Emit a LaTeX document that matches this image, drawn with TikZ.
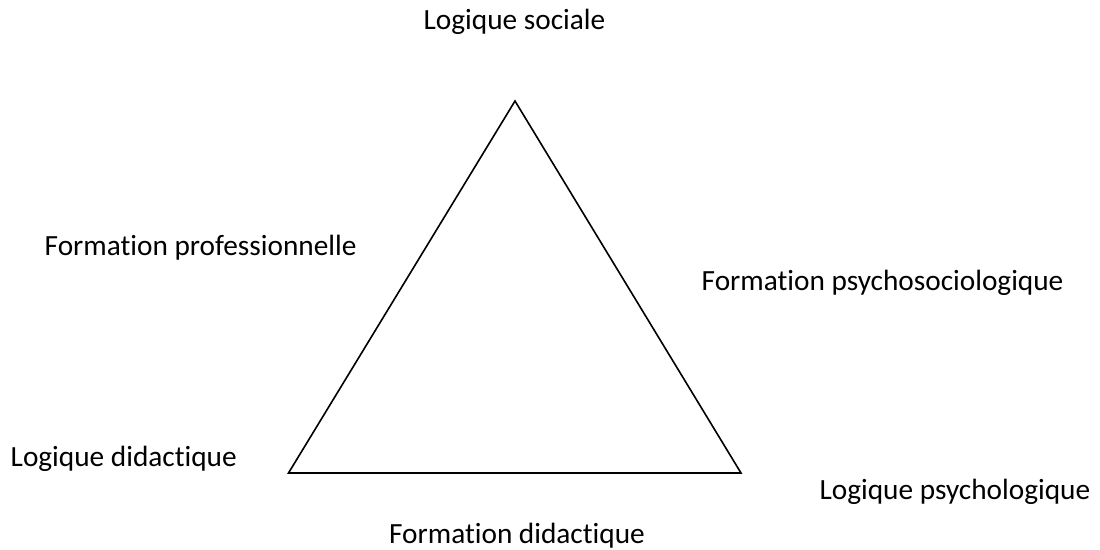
\documentclass[tikz,border=0pt]{standalone}
\usepackage{fontspec}
\setmainfont{Carlito}[Ligatures={NoCommon}]
\begin{document}
\begin{tikzpicture}[x=1pt,y=-1pt,
  lbl/.style={inner sep=0pt,font=\fontsize{29.3}{34}\selectfont},
  edge/.style={draw=black,line width=1.6pt}]
\useasboundingbox (0,0) rectangle (1100,549);
\coordinate (T) at (515,101);
\coordinate (L) at (288.5,473);
\coordinate (R) at (741,473);
\draw[edge,line join=miter] (T) -- (L) -- (R) -- cycle;
\node[lbl,anchor=base] (ls) at (514.5,29.5) {Logique sociale};
\node[lbl,anchor=base west] (fp) at (44.5,255) {Formation professionnelle};
\node[lbl,anchor=base west] (fps) at (701.5,290.7) {Formation psychosociologique};
\node[lbl,anchor=base west] (ld) at (10.5,466.7) {Logique didactique};
\node[lbl,anchor=base west] (lp) at (819.4,499.3) {Logique psychologique};
\node[lbl,anchor=base] (fd) at (517,543.3) {Formation didactique};
\end{tikzpicture}
\end{document}
